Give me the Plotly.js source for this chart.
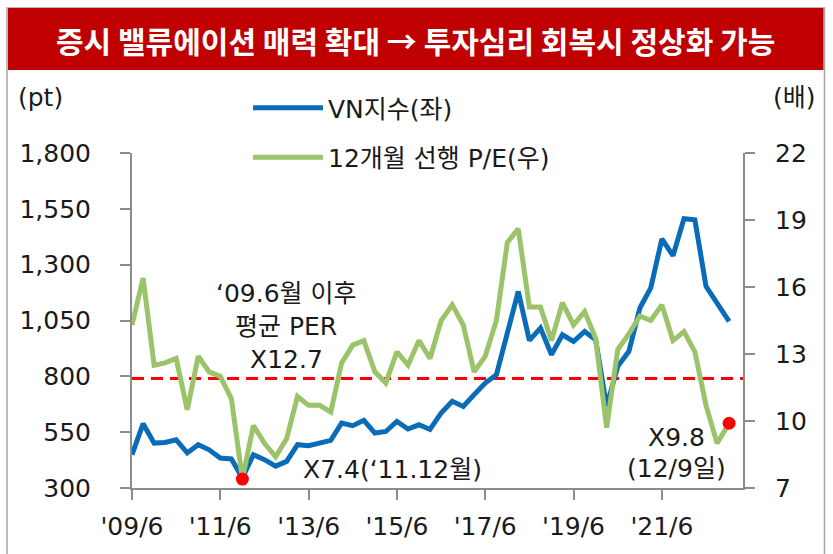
<!DOCTYPE html>
<html>
<head>
<meta charset="utf-8">
<script src="https://cdn.plot.ly/plotly-3.0.1.min.js"></script>
<style>
  html, body { margin: 0; padding: 0; background: #ffffff; }
  #chart { width: 833px; height: 554px; }
</style>
</head>
<body>
<div id="chart"></div>
<script>
// ---- data (quarterly) ----
const dates = [
  '2009-06-01','2009-09-01','2009-12-01','2010-03-01','2010-06-01','2010-09-01','2010-12-01',
  '2011-03-01','2011-06-01','2011-09-01','2011-12-01','2012-03-01','2012-06-01','2012-09-01',
  '2012-12-01','2013-03-01','2013-06-01','2013-09-01','2013-12-01','2014-03-01','2014-06-01',
  '2014-09-01','2014-12-01','2015-03-01','2015-06-01','2015-09-01','2015-12-01','2016-03-01',
  '2016-06-01','2016-09-01','2016-12-01','2017-03-01','2017-06-01','2017-09-01','2017-12-01',
  '2018-03-01','2018-06-01','2018-09-01','2018-12-01','2019-03-01','2019-06-01','2019-09-01',
  '2019-12-01','2020-03-01','2020-06-01','2020-09-01','2020-12-01','2021-03-01','2021-06-01',
  '2021-09-01','2021-12-01','2022-03-01','2022-06-01','2022-09-01','2022-12-09'
];
const vnIndex = [
  449, 588, 501, 504, 516, 457, 494, 471, 434, 430, 345, 449, 427, 398,
  419, 494, 489, 501, 513, 591, 579, 603, 546, 553, 598, 564, 583, 562,
  636, 688, 665, 718, 770, 807, 994, 1180, 961, 1016, 897, 986, 956, 1001,
  964, 665, 845, 912, 1106, 1196, 1415, 1340, 1506, 1501, 1203, 1128, 1046
];
const forwardPE = [
  14.3, 16.4, 12.5, 12.6, 12.8, 10.5, 12.9, 12.2, 12.0, 11.0, 7.4, 9.8, 9.0, 8.4,
  9.2, 11.1, 10.7, 10.7, 10.4, 12.6, 13.4, 13.6, 12.2, 11.7, 13.1, 12.5, 13.6, 12.8,
  14.5, 15.2, 14.3, 12.2, 12.9, 14.5, 18.0, 18.6, 15.1, 15.1, 13.6, 15.3, 14.3, 14.9,
  13.7, 9.7, 13.2, 13.9, 14.7, 14.5, 15.2, 13.6, 14.0, 13.1, 10.7, 9.0, 9.9
];
const highlightIdx = [10, 54];
const avgLineLevel = 11.9;

const seriesNames = ['VN지수(좌)', '12개월 선행 P/E(우)'];
const titleText = '증시 밸류에이션 매력 확대 → 투자심리 회복시 정상화 가능';
const avgLabelLines = ['‘09.6월 이후', '평균 PER', 'X12.7'];
const lowLabel = 'X7.4(‘11.12월)';
const lastLabelLines = ['X9.8', '(12/9일)'];

// ---- layout geometry ----
const FULL_W = 833, FULL_H = 554;
const M = { l: 132, r: 90, t: 153, b: 66 };
const PW = FULL_W - M.l - M.r, PH = FULL_H - M.t - M.b;
const px = x => (x - M.l) / PW;
const py = y => (FULL_H - M.b - y) / PH;

const FONT = '"DejaVu Sans", "Noto Sans CJK KR", sans-serif';
const TITLE_FONT = '"Noto Sans CJK KR", sans-serif';
const FS = 25;
const TXT = '#1a1a1a';
const AX = '#8c8c8c';

const traces = [
  {
    x: dates, y: vnIndex, name: seriesNames[0], type: 'scatter', mode: 'lines',
    yaxis: 'y', legendgroup: 'a',
    line: { color: '#0A6CB8', width: 5 }
  },
  {
    x: dates, y: forwardPE, name: seriesNames[1], type: 'scatter', mode: 'lines',
    yaxis: 'y2', legendgroup: 'b',
    line: { color: '#9BC36A', width: 5 }
  },
  {
    x: highlightIdx.map(i => dates[i]), y: highlightIdx.map(i => forwardPE[i]),
    type: 'scatter', mode: 'markers', yaxis: 'y2', showlegend: false,
    marker: { color: '#FF0000', size: 13 }
  }
];

function textAnn(text, x, y, anchor, size) {
  return { text: text, xref: 'paper', yref: 'paper', x: px(x), y: py(y),
    xanchor: anchor, yanchor: 'middle', showarrow: false,
    font: { family: FONT, size: size, color: TXT } };
}

const annotations = [
  { text: titleText, xref: 'paper', yref: 'paper', x: px(415), y: py(40),
    xanchor: 'center', yanchor: 'middle', showarrow: false,
    font: { family: TITLE_FONT, size: 30, color: '#ffffff', weight: 'bold' } },
  textAnn('(pt)', 40, 97, 'center', FS),
  textAnn('(배)', 794, 97, 'center', FS),
  textAnn(lowLabel, 301, 469, 'left', FS)
];
avgLabelLines.forEach((t, i) => annotations.push(textAnn(t, 286, 293 + i * 33, 'center', FS)));
lastLabelLines.forEach((t, i) => annotations.push(textAnn(t, 676, 437 + i * 31, 'center', FS)));

const tickStyle = {
  showgrid: false, zeroline: false, showline: true, linecolor: AX, linewidth: 2,
  ticks: 'outside', ticklen: 10, tickwidth: 2, tickcolor: AX,
  tickfont: { family: FONT, size: FS, color: TXT }
};

const layout = {
  width: FULL_W, height: FULL_H,
  margin: M,
  paper_bgcolor: '#ffffff', plot_bgcolor: '#ffffff',
  font: { family: FONT, size: FS, color: TXT },
  showlegend: true,
  legend: {
    x: px(248), y: py(85), xanchor: 'left', yanchor: 'top',
    bgcolor: 'rgba(0,0,0,0)', font: { family: FONT, size: FS, color: TXT },
    traceorder: 'grouped', tracegroupgap: 14, itemwidth: 70
  },
  xaxis: Object.assign({
    type: 'date', range: ['2009-06-01', '2023-04-03'],
    tick0: '2009-06-01', dtick: 'M24', tickformat: "'%y/%-m", ticklabelstandoff: 5
  }, tickStyle),
  yaxis: Object.assign({
    range: [300, 1800], dtick: 250, tick0: 300, tickformat: ',d', ticklabelstandoff: 24
  }, tickStyle),
  yaxis2: Object.assign({
    overlaying: 'y', side: 'right', range: [7, 22], dtick: 3, tick0: 7, ticklabelstandoff: 15
  }, tickStyle),
  shapes: [
    { type: 'rect', xref: 'paper', yref: 'paper', x0: px(7), x1: px(824.5), y0: py(8), y1: py(620),
      line: { color: '#a6a6a6', width: 1.5 }, fillcolor: 'rgba(0,0,0,0)', layer: 'below' },
    { type: 'rect', xref: 'paper', yref: 'paper', x0: px(8), x1: px(823.5), y0: py(8), y1: py(70),
      line: { width: 0 }, fillcolor: '#C00000', layer: 'below' },
    { type: 'line', xref: 'paper', yref: 'y2', x0: 0, x1: 1, y0: avgLineLevel, y1: avgLineLevel,
      line: { color: '#FF0000', width: 3, dash: '12px,7px' }, layer: 'below' }
  ],
  annotations: annotations
};

Plotly.newPlot('chart', traces, layout, { displayModeBar: false, staticPlot: true });
</script>
</body>
</html>
